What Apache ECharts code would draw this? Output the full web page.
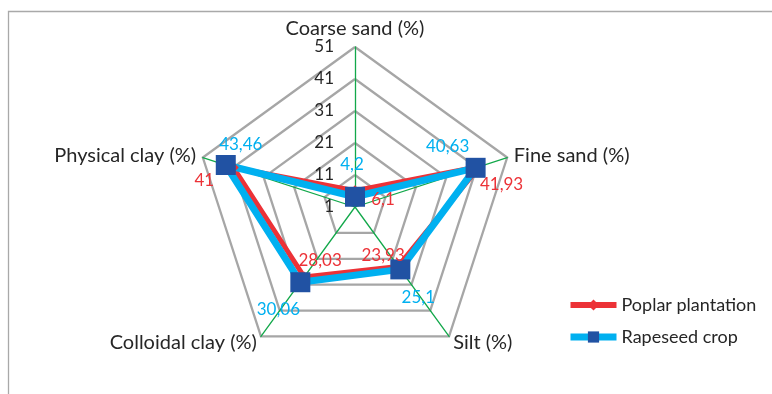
<!DOCTYPE html>
<html>
<head>
<meta charset="utf-8">
<script src="https://cdn.jsdelivr.net/npm/echarts@6/dist/echarts.min.js"></script>
<style>
  html, body { margin: 0; padding: 0; background: #ffffff; }
  #chart { width: 772px; height: 394px; }
</style>
</head>
<body>
<div id="chart"></div>
<script>
// Soil texture fractions for the two land uses (clockwise from the top)
const indicators = ['Coarse sand (%)', 'Fine sand (%)', 'Silt (%)', 'Colloidal clay (%)', 'Physical clay (%)'];
const poplar = [6.1, 41.93, 23.93, 28.03, 41];
const rapeseed = [4.2, 40.63, 25.1, 30.06, 43.46];
const seriesNames = ['Poplar plantation', 'Rapeseed crop'];
const scaleMin = 1;
const scaleMax = 51;

// Label placement (pixel shift from each point), per axis
const poplarLabelShift = [[28, 9], [22, 18], [-15, -11], [16, -16], [-29, 13]];
const rapeseedLabelShift = [[-3, -32], [-28, -21], [18, 28], [-22, 27], [15, -20]];

// The radar lays its axes out counter-clockwise, so feed it the axes in reverse
// after the first one to get a clockwise reading order.
const order = [0, 4, 3, 2, 1];
const pick = function (arr) { return order.map(function (i) { return arr[i]; }); };

const FONT = 'Lato, sans-serif';
const RED = '#ec3237';
const LIGHT_BLUE = '#00b0f0';
const DARK_BLUE = '#2152a3';

function fmt(v) {
  return String(v).replace('.', ',');
}

// Rich styles that nudge each value label away from its point
function shiftedRich(shifts, color) {
  const rich = {};
  shifts.forEach(function (s, i) {
    const dx = s[0], dy = s[1];
    rich['d' + i] = {
      color: color,
      fontSize: 17,
      fontFamily: FONT,
      padding: [
        dy > 0 ? 2 * dy : 0,
        dx < 0 ? -2 * dx : 0,
        dy < 0 ? -2 * dy : 0,
        dx > 0 ? 2 * dx : 0
      ]
    };
  });
  return rich;
}

function labelFor(values, shifts, color) {
  return {
    show: true,
    position: 'inside',
    formatter: function (p) {
      const i = values.indexOf(p.value);
      return '{d' + i + '|' + fmt(p.value) + '}';
    },
    rich: shiftedRich(shifts, color)
  };
}

const poplarShown = pick(poplar);
const rapeseedShown = pick(rapeseed);

const chart = echarts.init(document.getElementById('chart'), null, { renderer: 'canvas' });

chart.setOption({
  animation: false,
  backgroundColor: '#ffffff',
  textStyle: { fontFamily: FONT },
  graphic: [{
    type: 'polyline',
    silent: true,
    shape: { points: [[8.5, 394], [8.5, 11.5], [772, 11.5]] },
    style: { stroke: '#a9a9a9', lineWidth: 1.3, fill: null }
  }],
  legend: {
    orient: 'vertical',
    left: 567,
    top: 296,
    padding: 0,
    itemWidth: 46,
    itemHeight: 14,
    itemGap: 14,
    data: [
      { name: seriesNames[0], lineStyle: { width: 6 } },
      { name: seriesNames[1], lineStyle: { width: 7 } }
    ],
    textStyle: { fontSize: 18, color: '#262626', fontFamily: FONT }
  },
  // Hidden cartesian used only to give the legend line-and-marker icons
  grid: { show: false, left: -50, top: -50, width: 10, height: 10 },
  xAxis: { show: false, type: 'category', data: [] },
  yAxis: { show: false, type: 'value' },
  radar: {
    center: [355, 207],
    radius: 160,
    startAngle: 90,
    shape: 'polygon',
    splitNumber: 5,
    indicator: pick(indicators).map(function (name, i) {
      return { name: name, min: scaleMin, max: scaleMax, axisLabel: { show: i === 0 } };
    }),
    axisName: { color: '#262626', fontSize: 20, fontFamily: FONT },
    nameGap: 7,
    axisLine: { lineStyle: { color: '#12a84a', width: 1.3 } },
    splitLine: { lineStyle: { color: '#a6a6a6', width: 2.3 } },
    splitArea: { show: false },
    axisTick: { show: false },
    axisLabel: { show: true, color: '#262626', fontSize: 17, fontFamily: FONT, margin: 21 }
  },
  series: [
    {
      type: 'line', name: seriesNames[0], data: [], symbol: 'diamond',
      lineStyle: { color: RED, width: 6 }, itemStyle: { color: RED }
    },
    {
      type: 'line', name: seriesNames[1], data: [], symbol: 'rect',
      lineStyle: { color: LIGHT_BLUE, width: 7 }, itemStyle: { color: DARK_BLUE }
    },
    {
      type: 'radar',
      name: seriesNames[0],
      symbol: 'diamond',
      symbolSize: 11,
      lineStyle: { color: RED, width: 5 },
      itemStyle: { color: RED },
      label: labelFor(poplarShown, pick(poplarLabelShift), RED),
      data: [{ name: seriesNames[0], value: poplarShown }]
    },
    {
      type: 'radar',
      name: seriesNames[1],
      symbol: 'rect',
      symbolSize: 20,
      lineStyle: { color: LIGHT_BLUE, width: 7 },
      itemStyle: { color: DARK_BLUE },
      label: labelFor(rapeseedShown, pick(rapeseedLabelShift), LIGHT_BLUE),
      data: [{ name: seriesNames[1], value: rapeseedShown }]
    }
  ]
});
</script>
</body>
</html>
